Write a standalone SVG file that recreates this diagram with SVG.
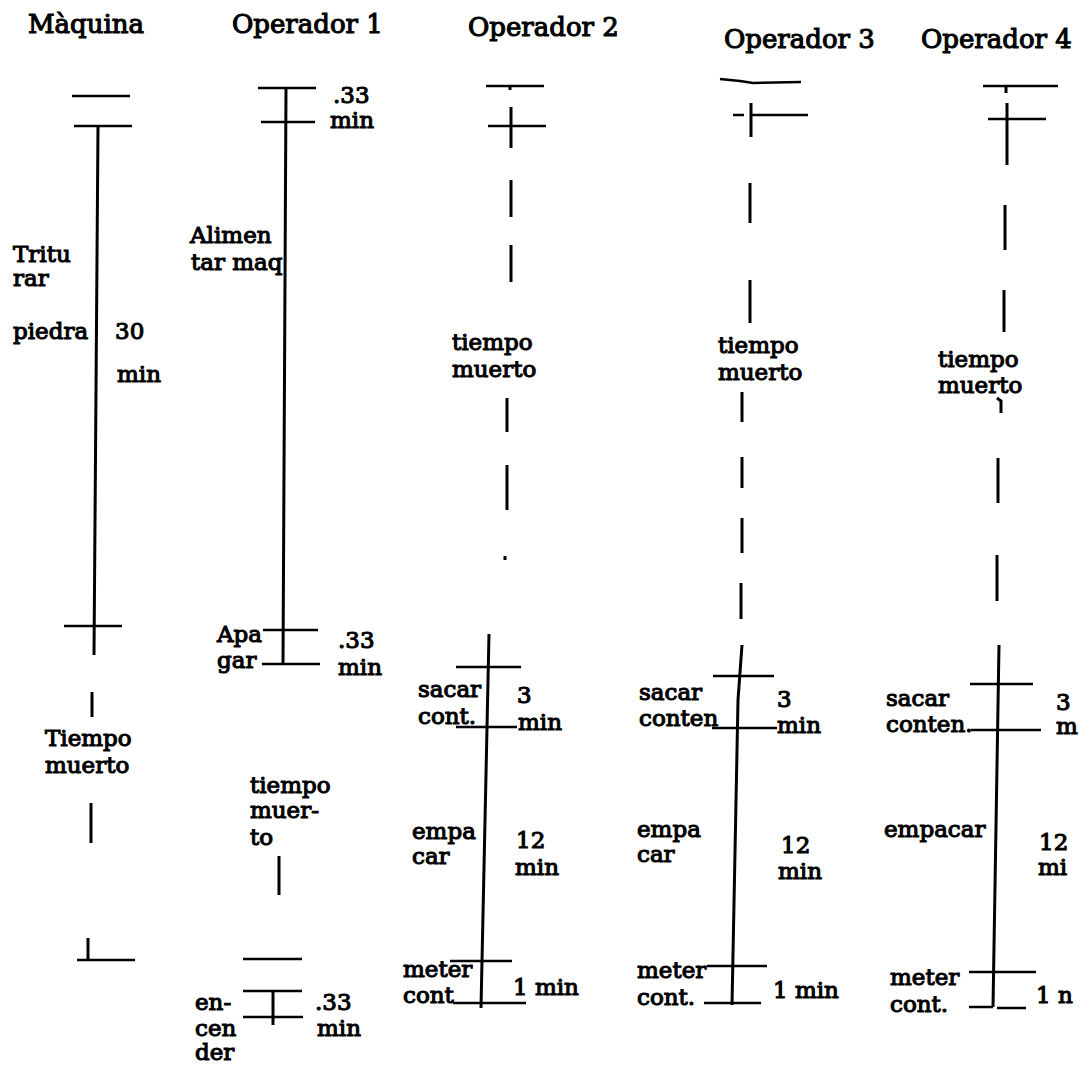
<svg xmlns="http://www.w3.org/2000/svg" width="1091" height="1066" viewBox="0 0 1091 1066">
<style>
.t{font-family:"DejaVu Serif","Liberation Serif",serif;font-size:23px;fill:#000;stroke:#000;stroke-width:1.1;paint-order:fill}
.h{font-family:"DejaVu Serif","Liberation Serif",serif;font-size:26px;fill:#000;stroke:#000;stroke-width:1.1}
.l{stroke:#000;stroke-width:2.5;fill:none;stroke-linecap:butt}
.v{stroke:#000;stroke-width:3;fill:none}
</style>
<rect width="1091" height="1066" fill="#fff"/>
<g id="maquina">
<text class="h" x="28" y="33">Màquina</text>
<text class="t" x="13" y="262">Tritu</text>
<text class="t" x="13" y="286">rar</text>
<text class="t" x="13" y="339">piedra</text>
<text class="t" x="115" y="339">30</text>
<text class="t" x="117" y="382">min</text>
<text class="t" x="45" y="746">Tiempo</text>
<text class="t" x="45" y="773">muerto</text>
</g>
<g id="operador1">
<text class="h" x="232" y="33">Operador 1</text>
<text class="t" x="333" y="103">.33</text>
<text class="t" x="330" y="128">min</text>
<text class="t" x="190" y="243">Alimen</text>
<text class="t" x="191" y="270">tar maq</text>
<text class="t" x="217" y="642">Apa</text>
<text class="t" x="217" y="668">gar</text>
<text class="t" x="338" y="648">.33</text>
<text class="t" x="338" y="675">min</text>
<text class="t" x="250" y="793">tiempo</text>
<text class="t" x="250" y="818">muer-</text>
<text class="t" x="250" y="845">to</text>
<text class="t" x="195" y="1010">en-</text>
<text class="t" x="195" y="1036">cen</text>
<text class="t" x="195" y="1060">der</text>
<text class="t" x="315" y="1010">.33</text>
<text class="t" x="317" y="1036">min</text>
</g>
<g id="operador2">
<text class="h" x="468" y="36">Operador 2</text>
<text class="t" x="452" y="350">tiempo</text>
<text class="t" x="452" y="377">muerto</text>
<text class="t" x="418" y="697">sacar</text>
<text class="t" x="418" y="724">cont.</text>
<text class="t" x="517" y="703">3</text>
<text class="t" x="518" y="730">min</text>
<text class="t" x="412" y="839">empa</text>
<text class="t" x="412" y="864">car</text>
<text class="t" x="516" y="848">12</text>
<text class="t" x="515" y="875">min</text>
<text class="t" x="403" y="977">meter</text>
<text class="t" x="403" y="1003">cont</text>
<text class="t" x="513" y="995">1 min</text>
</g>
<g id="operador3">
<text class="h" x="724" y="48">Operador 3</text>
<text class="t" x="718" y="353">tiempo</text>
<text class="t" x="718" y="380">muerto</text>
<text class="t" x="639" y="700">sacar</text>
<text class="t" x="639" y="726">conten</text>
<text class="t" x="777" y="707">3</text>
<text class="t" x="777" y="733">min</text>
<text class="t" x="637" y="837">empa</text>
<text class="t" x="637" y="862">car</text>
<text class="t" x="781" y="853">12</text>
<text class="t" x="778" y="879">min</text>
<text class="t" x="637" y="978">meter</text>
<text class="t" x="637" y="1005">cont.</text>
<text class="t" x="773" y="998">1 min</text>
</g>
<g id="operador4">
<text class="h" x="921" y="48">Operador 4</text>
<text class="t" x="938" y="367">tiempo</text>
<text class="t" x="938" y="393">muerto</text>
<text class="t" x="886" y="706">sacar</text>
<text class="t" x="886" y="732">conten.</text>
<text class="t" x="1056" y="710">3</text>
<text class="t" x="1056" y="734">m</text>
<text class="t" x="884" y="837">empacar</text>
<text class="t" x="1039" y="850">12</text>
<text class="t" x="1038" y="875">mi</text>
<text class="t" x="890" y="985">meter</text>
<text class="t" x="890" y="1012">cont.</text>
<text class="t" x="1036" y="1003">1 n</text>
</g>
<g id="connectors">
<path class="l" d="M72 96H130M74 126H132M64 626H122M77 960H135"/>
<path class="v" d="M98 126L94 655M92 692V717M91 803V843M88 938V961"/>
<path class="l" d="M258 88H316M261 122H315M263 630H318M243 959H302M243 991H302M243 1017H303"/>
<path class="l" stroke-width="3.2" d="M262 664H320"/>
<path class="v" d="M286 88L283 665M279 856V895M273 991V1025"/>
<path class="l" d="M486 86H544M488 126H546M456 667H521M456 727H517M450 961H512M453 1003H526"/>
<path class="v" d="M510 86V90M511 107V148M511 180V217M511 245V282M507 398V432M507 465V510M505 556V560M489 634L481 1008"/>
<path class="l" d="M720 79L740 81L753 83L801 82M733 115H744M751 115H808M713 676H774M712 728H777M707 966H767M704 1003H761"/>
<path class="v" d="M751 103V137M750 183V223M750 280V323M742 392V422M742 457V488M742 518V553M741 583V619M742 645L738 700L732 1005"/>
<path class="l" d="M983 86H1058M988 119H1046M970 684H1033M971 730H1041M969 972H1036M969 1007H993M997 1008H1026"/>
<path class="v" d="M1006 86V93M1007 103V165M1005 205V250M1004 290V332M997 398L1001 401V413M998 458V503M997 555V601M999 645L993 1007"/>
</g>
</svg>
